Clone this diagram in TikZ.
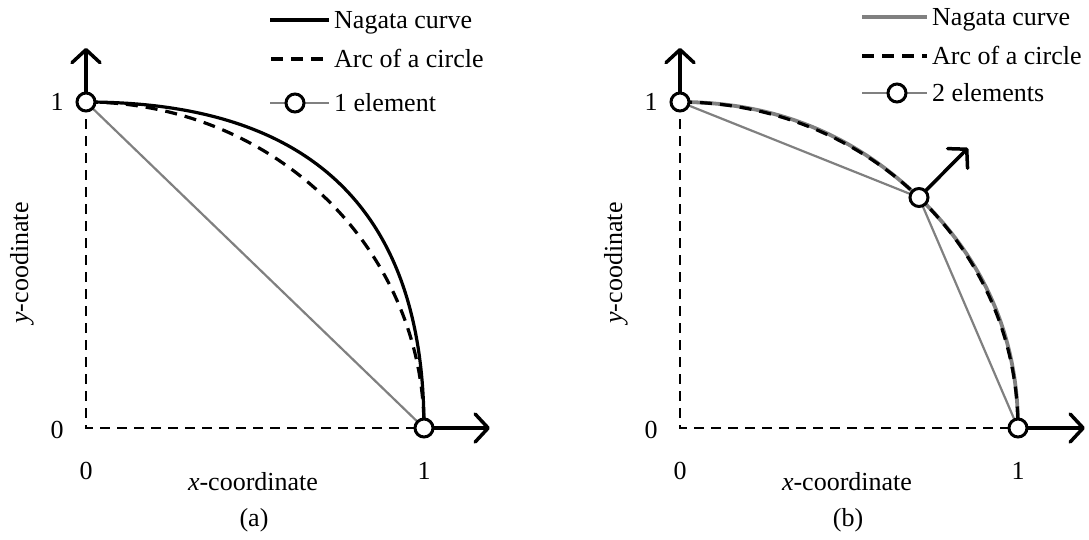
\documentclass[tikz,border=0pt]{standalone}
\usepackage{fontspec}
\setmainfont{Liberation Serif}
\usetikzlibrary{arrows.meta,backgrounds}
\begin{document}
\begin{tikzpicture}[x=1pt,y=-1pt,
  font=\fontsize{26}{30}\selectfont,
  every node/.style={inner sep=0pt},
  pt/.style={circle, draw=black, fill=white, line width=3pt, minimum size=18pt, inner sep=0pt},
  axisdash/.style={black, line width=2.5pt, dash pattern=on 10pt off 7pt},
  chord/.style={gray, line width=2.2pt},
  nagata/.style={black, line width=3.2pt},
  nagatagray/.style={gray, line width=3.8pt},
  arcdash/.style={black, line width=3.2pt, dash pattern=on 12pt off 8pt},
  axarrow/.style={black, line width=3.5pt, line cap=round, line join=round,
    -{Straight Barb[length=13pt, width=28pt, line width=3.5pt, round]}},
  legtext/.style={anchor=base west},
  lbl/.style={anchor=center}
]
\useasboundingbox (0,0) rectangle (1089,539);

% ================= panel (a) =================
\begin{scope}[shift={(86,428)}, x=338pt, y=326pt]
  \coordinate (aO) at (0,0);
  \node[pt] (a0) at (0,1) {};
  \node[pt] (a1) at (1,0) {};
  \coordinate (aUp) at (0,1.166);
  \coordinate (aRight) at (1.195,0);
  \begin{pgfonlayer}{background}
    \draw[chord] (a0.center) -- (a1.center);
    \draw[axisdash] (a0.center) -- (aO) -- (a1.center);
    \draw[arcdash] plot[domain=90:0, samples=90] ({cos(\x)},{sin(\x)});
    \draw[nagata] (a0.center) .. controls (0.66667,1) and (1,0.66667) .. (a1.center);
    \draw[axarrow] (a0.center) -- (aUp);
    \draw[axarrow] (a1.center) -- (aRight);
  \end{pgfonlayer}
\end{scope}

% ticks and labels (a)
\node[lbl] (ta0y) at (57,430) {0};
\node[lbl] (ta1y) at (57,102) {1};
\node[lbl] (ta0x) at (86,471) {0};
\node[lbl] (ta1x) at (424,471) {1};
\node[lbl] (axl) at (253,482) {\textit{x}-coordinate};
\node[lbl, rotate=90] (ayl) at (22,263) {\textit{y}-coodinate};
\node[lbl] (acap) at (254,520) {(a)};

% legend (a)
\coordinate (la1s) at (270,20); \coordinate (la1e) at (329,20);
\coordinate (la2s) at (270,59); \coordinate (la2e) at (329,59);
\coordinate (la3s) at (270,103); \coordinate (la3e) at (329,103);
\node[pt] (lam) at (295,103) {};
\begin{pgfonlayer}{background}
  \draw[nagata] (la1s) -- (la1e);
  \draw[arcdash, dash phase=-1pt] (la2s) -- (la2e);
  \draw[chord] (la3s) -- (la3e);
\end{pgfonlayer}
\node[legtext] (lat1) at (334,28.6) {Nagata curve};
\node[legtext] (lat2) at (334,67.6) {Arc of a circle};
\node[legtext] (lat3) at (334,111.6) {1 element};

% ================= panel (b) =================
\begin{scope}[shift={(680,428)}, x=338pt, y=326pt]
  \coordinate (bO) at (0,0);
  \node[pt] (b0) at (0,1) {};
  \node[pt] (bm) at (0.70711,0.70711) {};
  \node[pt] (b1) at (1,0) {};
  \coordinate (bUp) at (0,1.166);
  \coordinate (bRight) at (1.198,0);
  \coordinate (bNorm) at (0.852,0.859);
  \begin{pgfonlayer}{background}
    \draw[chord] (b0.center) -- (bm.center) -- (b1.center);
    \draw[axisdash] (b0.center) -- (bO) -- (b1.center);
    \draw[nagatagray] (b0.center) .. controls (0.27614,1) and (0.51184,0.90237) .. (bm.center)
                      .. controls (0.90237,0.51184) and (1,0.27614) .. (b1.center);
    \draw[arcdash] plot[domain=90:0, samples=90] ({cos(\x)},{sin(\x)});
    \draw[axarrow] (b0.center) -- (bUp);
    \draw[axarrow] (b1.center) -- (bRight);
    \draw[axarrow] (bm.center) -- (bNorm);
  \end{pgfonlayer}
\end{scope}

% ticks and labels (b)
\node[lbl] (tb0y) at (651,430) {0};
\node[lbl] (tb1y) at (651,102) {1};
\node[lbl] (tb0x) at (680,471) {0};
\node[lbl] (tb1x) at (1018,471) {1};
\node[lbl] (bxl) at (847,482) {\textit{x}-coordinate};
\node[lbl, rotate=90] (byl) at (616,263) {\textit{y}-coodinate};
\node[lbl] (bcap) at (848,520) {(b)};

% legend (b)
\coordinate (lb1s) at (862,17); \coordinate (lb1e) at (927,17);
\coordinate (lb2s) at (862,56); \coordinate (lb2e) at (927,56);
\coordinate (lb3s) at (862,93); \coordinate (lb3e) at (927,93);
\node[pt] (lbm) at (897,93) {};
\begin{pgfonlayer}{background}
  \draw[nagatagray] (lb1s) -- (lb1e);
  \draw[arcdash] (lb2s) -- (lb2e);
  \draw[chord] (lb3s) -- (lb3e);
\end{pgfonlayer}
\node[legtext] (lbt1) at (932,25.6) {Nagata curve};
\node[legtext] (lbt2) at (932,64.6) {Arc of a circle};
\node[legtext] (lbt3) at (932,101.6) {2 elements};
\end{tikzpicture}
\end{document}
